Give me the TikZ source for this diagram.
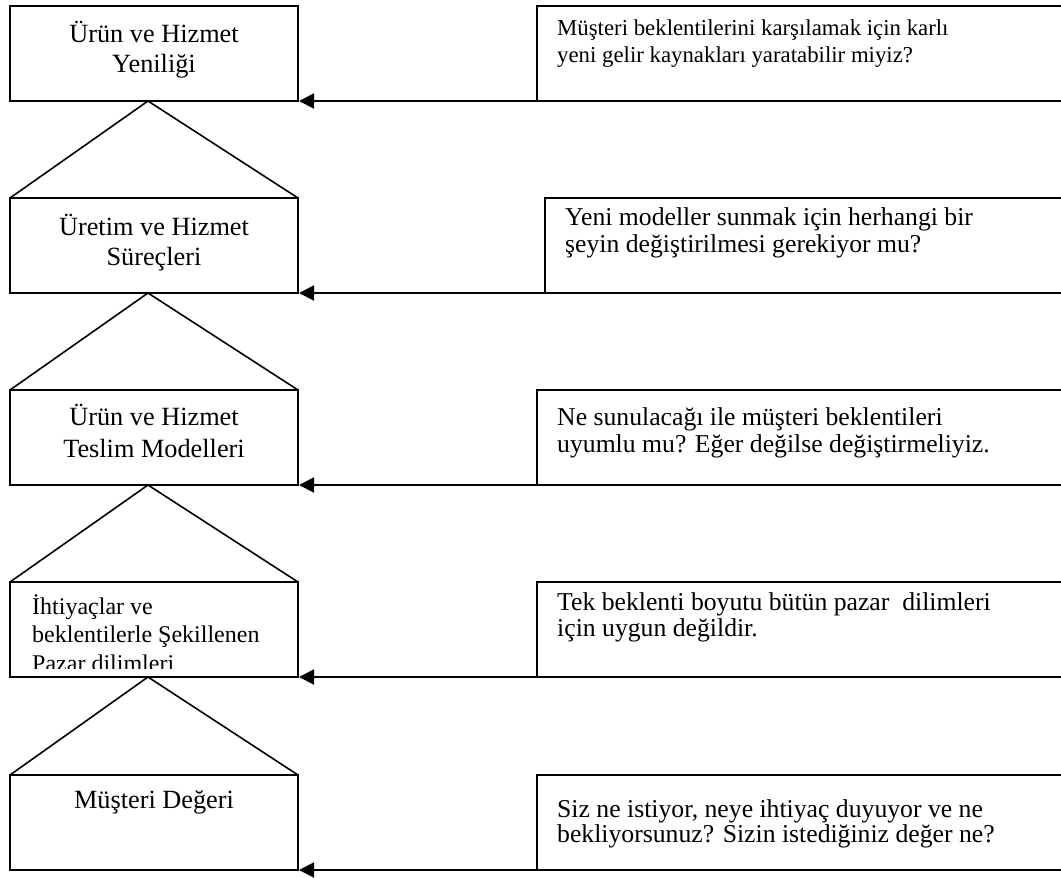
\documentclass[tikz,border=0pt]{standalone}
\usepackage{fontspec}
\setmainfont{Liberation Serif}
\usetikzlibrary{arrows.meta}
\begin{document}
\begin{tikzpicture}[x=1pt,y=-1pt,
  lbox/.style={draw, line width=1.9pt, minimum width=288pt, minimum height=95pt, inner sep=0pt, outer sep=0pt, anchor=north west},
  rbox/.style={draw, line width=1.9pt, minimum width=529pt, minimum height=95pt, inner sep=0pt, outer sep=0pt, anchor=north west},
  roof/.style={draw, line width=1.6pt, line join=miter},
  arr/.style={draw, line width=1.9pt, -{Triangle[length=15pt,width=15pt]}, shorten >=1pt},
  ltxt/.style={anchor=base, inner sep=0pt, font=\fontsize{26.3}{30}\selectfont},
  stxt/.style={anchor=base west, inner sep=0pt, font=\fontsize{24}{28}\selectfont},
  rtxt/.style={anchor=base west, inner sep=0pt, font=\fontsize{25.7}{27}\selectfont},
  rtxtn/.style={anchor=base west, inner sep=0pt, font=\fontsize{22.8}{27}\selectfont}]
\useasboundingbox[fill=white] (0,0) rectangle (1061,878);

% left boxes
\node[lbox] (l1) at (10,6) {};
\node[lbox] (l2) at (10,198) {};
\node[lbox] (l3) at (10,390) {};
\node[lbox] (l4) at (10,582) {};
\node[lbox] (l5) at (10,775) {};

% right boxes
\node[rbox] (r1) at (537,6) {};
\node[rbox, minimum width=521pt] (r2) at (545,198) {};
\node[rbox] (r3) at (537,390) {};
\node[rbox] (r4) at (537,582) {};
\node[rbox] (r5) at (537,775) {};

% roofs
\draw[roof] (l2.north west) -- ([xshift=-6pt]l1.south) -- (l2.north east);
\draw[roof] (l3.north west) -- ([xshift=-6pt]l2.south) -- (l3.north east);
\draw[roof] (l4.north west) -- ([xshift=-6pt]l3.south) -- (l4.north east);
\draw[roof] (l5.north west) -- ([xshift=-6pt]l4.south) -- (l5.north east);

% arrows
\draw[arr] (r1.south east) -- (l1.south east);
\draw[arr] (r2.south east) -- (l2.south east);
\draw[arr] (r3.south east) -- (l3.south east);
\draw[arr] (r4.south east) -- (l4.south east);
\draw[arr] (r5.south east) -- (l5.south east);

% left texts
\node[ltxt] (t1a) at (154,42) {Ürün ve Hizmet};
\node[ltxt] (t1b) at (154,72) {Yeniliği};
\node[ltxt] (t2a) at (154,235) {Üretim ve Hizmet};
\node[ltxt] (t2b) at (154,265) {Süreçleri};
\node[ltxt] (t3a) at (154,425) {Ürün ve Hizmet};
\node[ltxt] (t3b) at (154,457) {Teslim Modelleri};
\begin{scope}
\clip (11,583) rectangle (297,668.5);
\node[stxt] (t4a) at (32,614) {İhtiyaçlar ve};
\node[stxt] (t4b) at (32,642) {beklentilerle Şekillenen};
\node[stxt] (t4c) at (32,671) {Pazar dilimleri};
\end{scope}
\node[ltxt] (t5a) at (154,808) {Müşteri Değeri};

% right texts
\node[rtxtn] (q1a) at (557,35) {Müşteri beklentilerini karşılamak için karlı};
\node[rtxtn] (q1b) at (557,62) {yeni gelir kaynakları yaratabilir miyiz?};
\node[rtxt] (q2a) at (565,225) {Yeni modeller sunmak için herhangi bir};
\node[rtxt] (q2b) at (565,252) {şeyin değiştirilmesi gerekiyor mu?};
\node[rtxt] (q3a) at (557,425) {Ne sunulacağı ile müşteri beklentileri};
\node[rtxt] (q3b) at (557,452) {uyumlu mu? Eğer değilse değiştirmeliyiz.};
\node[rtxt] (q4a) at (557,610) {Tek beklenti boyutu bütün pazar\ \ dilimleri};
\node[rtxt] (q4b) at (557,636) {için uygun değildir.};
\node[rtxt] (q5a) at (557,817) {Siz ne istiyor, neye ihtiyaç duyuyor ve ne};
\node[rtxt] (q5b) at (557,842) {bekliyorsunuz? Sizin istediğiniz değer ne?};
\end{tikzpicture}
\end{document}
